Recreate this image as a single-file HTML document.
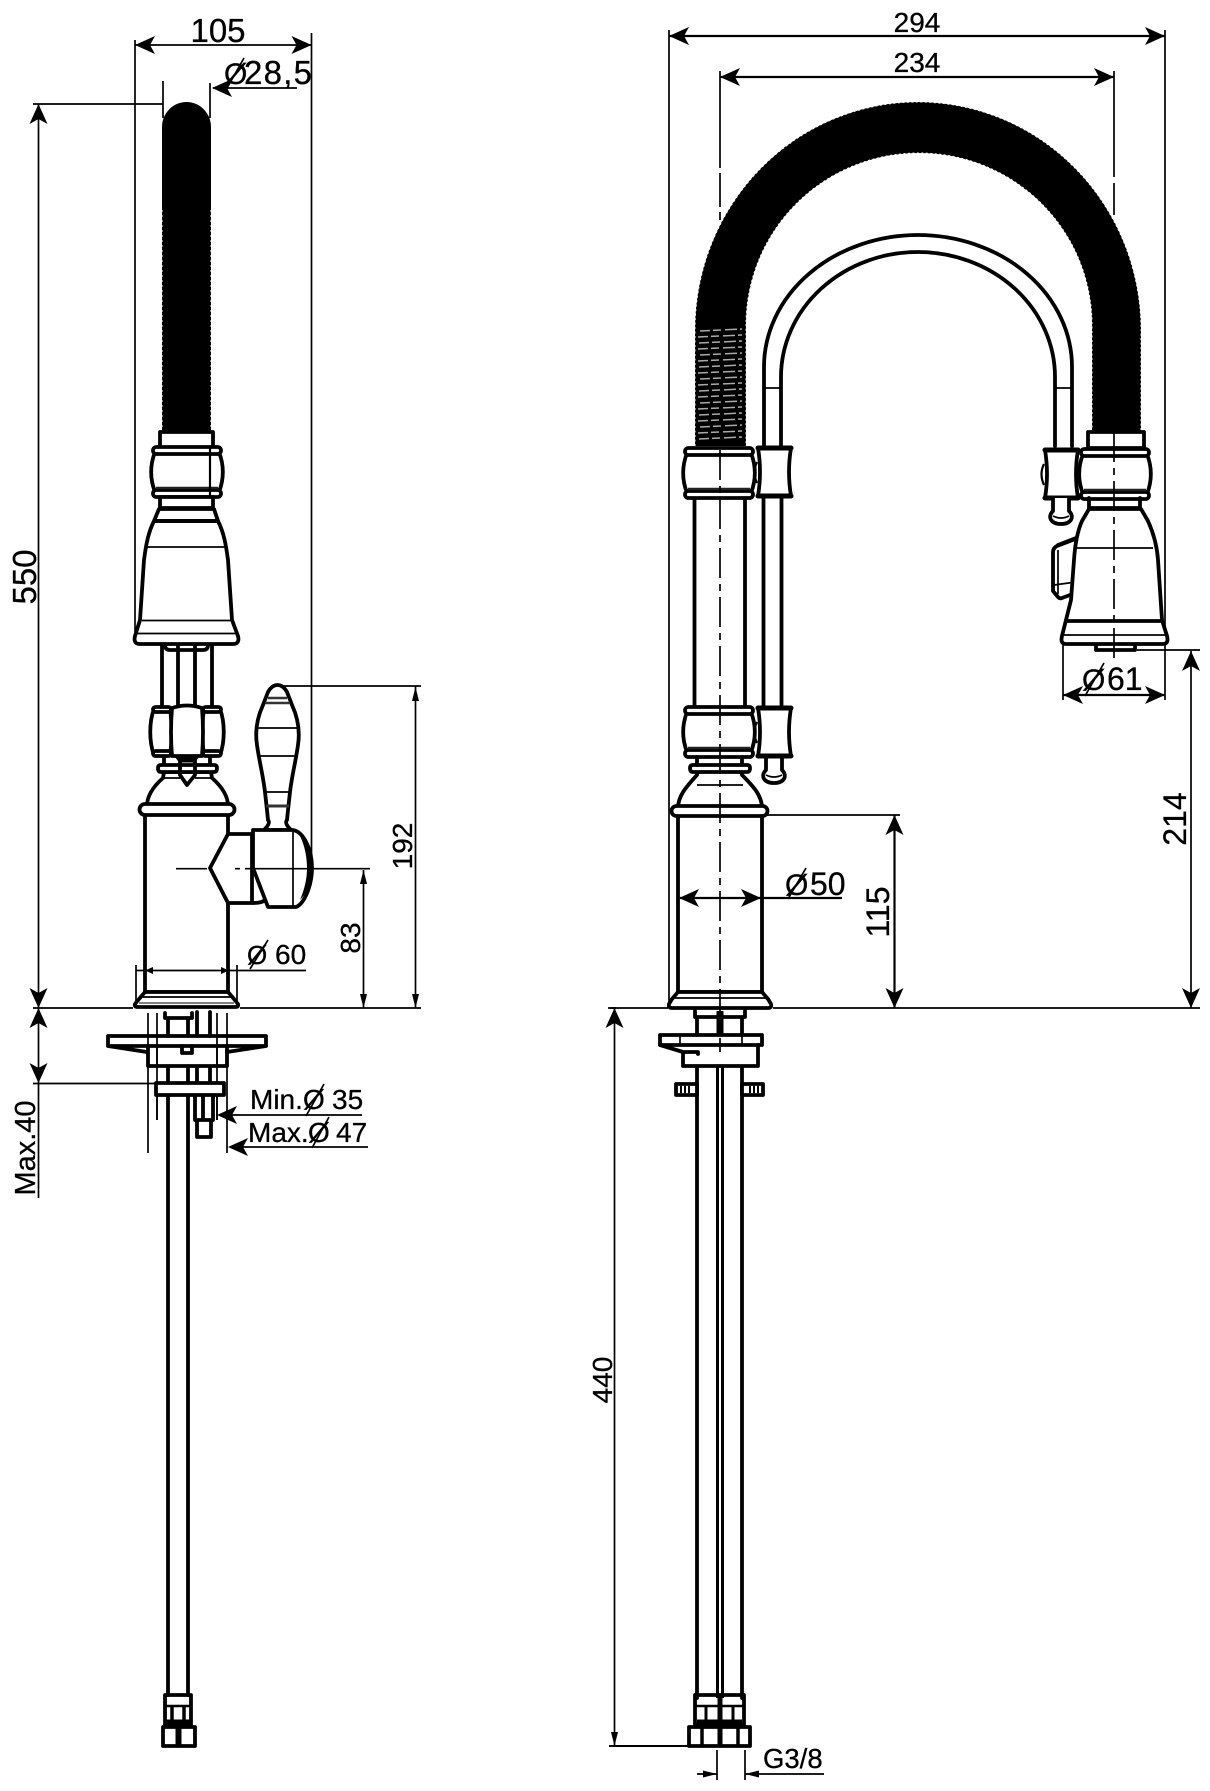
<!DOCTYPE html>
<html><head><meta charset="utf-8"><style>
html,body{margin:0;padding:0;background:#fff}
svg{display:block}
text{font-family:"Liberation Sans",sans-serif;fill:#000;stroke:#000;stroke-width:.3}
.k{fill:none;stroke:#000;stroke-width:3.8;stroke-linejoin:round;stroke-linecap:round}
.w{fill:#fff;stroke:#000;stroke-width:3.8;stroke-linejoin:round;stroke-linecap:round}
.t{fill:none;stroke:#000;stroke-width:1.7}
.m{fill:none;stroke:#000;stroke-width:2.2}
</style></head><body>
<svg width="1210" height="1791" viewBox="0 0 1210 1791" xmlns="http://www.w3.org/2000/svg">
<defs>
<path id="A" d="M0 0L20 -9L15 0L20 9Z"/>
<path id="S" d="M0 0L14 -3.500L14 3.500Z"/>
<path id="X" d="M0 0L8 -3.500L8 3.500Z"/>
<g id="collar">
<path class="w" d="M2 5C-3 18 -3 32 2 45L66 45C71 32 71 18 66 5Z"/>
<rect class="w" x="0" y="0" width="68" height="7" rx="3.500"/>
<rect class="w" x="0" y="43" width="68" height="7" rx="3.500"/>
<path d="M3 41H65" stroke="#222" stroke-width="2.500" fill="none"/>
</g>
<g id="clamp">
<path class="w" d="M1 3Q5 27 1 51L34 51Q30 27 34 3Z"/>
<path d="M1 3H34M1 51H34" stroke="#000" stroke-width="5" stroke-linecap="round" fill="none"/>
<path class="m" d="M0 17Q-5 27 0 38"/>
</g>
<g id="tip">
<path class="w" d="M-8 0V13C-14 19 -10 26 0 26C10 26 14 19 8 13V0"/>
<path class="t" d="M-8 18Q0 22 8 18"/>
</g>
</defs>

<!-- ================= LEFT VIEW ================= -->
<path class="t" d="M135 40V632M311.500 33V862"/>
<path class="t" d="M135 45H311"/>
<use href="#A" transform="translate(135,45)"/><use href="#A" transform="translate(311.500,45) rotate(180)"/>
<text x="218" y="42" font-size="33" text-anchor="middle">105</text>

<path class="t" d="M163 81V118M210 83V118M213 88H297"/>
<use href="#A" transform="translate(212,88)"/>
<text x="224" y="84" font-size="30">Ø</text><path class="t" d="M227 88L244 58"/>
<text x="244" y="84" font-size="33" textLength="68" lengthAdjust="spacing">28,5</text>

<!-- hose -->
<path d="M162 432V127A24.500 25 0 0 1 211 127V432Z" fill="#000"/>
<path d="M162 210V432M211 210V432" stroke="#fff" stroke-width="1" stroke-dasharray="2 3" fill="none"/>
<path class="t" d="M33 104H163"/>
<path class="t" d="M38.500 104V1198"/>
<use href="#A" transform="translate(38.500,104) rotate(90)"/>
<use href="#A" transform="translate(38.500,1008) rotate(-90)"/>
<use href="#A" transform="translate(38.500,1008) rotate(90)"/>
<use href="#A" transform="translate(38.500,1083) rotate(-90)"/>
<path class="t" d="M33 1008H133M33 1083.500H156"/>
<text transform="translate(36,577) rotate(-90)" font-size="33" text-anchor="middle">550</text>
<text transform="translate(35,1148) rotate(-90)" font-size="29" text-anchor="middle">Max.40</text>

<!-- head left -->
<rect class="w" x="160" y="432" width="53" height="16"/>
<use href="#collar" transform="translate(153,447)"/>
<path class="m" d="M210 447V497"/>
<rect class="w" x="160" y="497" width="53" height="11"/>
<path class="w" d="M159 509L154 521C148 533 146 545 144 560L140 620L135 636Q133 644 140 644H233Q240 644 238 636L232 620L228 560C226 545 224 533 218 521L214 509Z"/>
<path d="M154 521H219" stroke="#000" stroke-width="4"/>
<path class="t" d="M147 547H226"/>
<path d="M142 620.500H231" stroke="#000" stroke-width="1.700"/>
<path d="M137 633.500H236" stroke="#000" stroke-width="1.700"/>

<!-- under head -->
<path class="k" d="M165 645Q165 650 170 650H203Q208 650 208 645"/>
<path class="k" d="M162 645V708M178 645V708M195 645V708M212 645V708"/>

<!-- lower collar left -->
<path class="w" d="M154 709C149 722 149 742 154 755H170C172 742 172 722 170 709Z"/>
<path class="w" d="M220 709C225 722 225 742 220 755H204C202 742 202 722 204 709Z"/>
<rect class="w" x="153" y="707" width="18" height="5" rx="2.500"/>
<rect class="w" x="203" y="707" width="18" height="5" rx="2.500"/>
<rect class="w" x="153" y="751" width="18" height="5" rx="2.500"/>
<rect class="w" x="203" y="751" width="18" height="5" rx="2.500"/>
<path class="w" d="M172 708Q187 703 202 708Q204 732 202 756H172Q170 732 172 708Z"/>
<path d="M176 756H198L194 761H180Z" fill="#000" stroke="#000" stroke-width="3"/>
<path class="k" d="M164 758V765M210 758V765"/>

<!-- base left -->
<path class="w" d="M147 806C147 795 155 785 163 778L164 772H211L212 778C220 785 228 795 228 806Z"/>
<path class="w" d="M158 768Q158 765 161 765H214Q217 765 217 768Q217 772 214 772H161Q158 772 158 768Z"/>
<path class="k" d="M180 760V775L187 785L195 775V760"/>
<path class="t" d="M164 778H180M195 778H211"/>
<rect class="w" x="145" y="812" width="83" height="180"/>
<rect class="w" x="139.500" y="804" width="95" height="11" rx="5.500"/>
<path class="w" d="M145 992H228L234 999L238 1004Q239 1007 235 1007H138Q134 1007 135 1004L139 999Z"/>
<path class="t" d="M142 997H232"/>
<path d="M139 1003H234" stroke="#000" stroke-width="1"/>

<!-- handle -->
<path class="w" d="M228 834L210 868L228 903H252V834Z"/>
<path class="w" d="M264 830C269 825 270 822 268 820L267 810L265 792C263 775 259 760 257 745C255 732 257 718 263 705L268 692Q272 685 277.500 685Q283 685 287 692L292 705C298 718 300 732 298 745C296 760 292 775 290 792L288 810L287 820C285 822 286 825 291 830Z"/>
<path class="t" d="M256 728H299M260 756H295"/>
<path d="M265 703H290M268 698H287" stroke="#333" stroke-width="2.500"/>
<path d="M266 806H289" stroke="#333" stroke-width="3"/>
<path class="t" d="M265 792H290"/>
<path class="w" d="M253 830H293C304 832 312 850 312 868C312 886 304 904 296 907H268L253 868Z"/>
<path d="M300 836C308 846 312 858 312 868C312 880 308 892 300 900C305 888 307 878 307 868C307 858 305 846 300 836Z" fill="#000"/>
<path class="t" d="M293 830V907"/>
<path class="k" d="M253 903Q262 903 265 900"/>
<path class="t" d="M176 868.700H207M235 868.700H240M245 868.700H370"/>
<path class="t" d="M363.500 870V1008"/>
<use href="#S" transform="translate(363.500,870) rotate(90)"/>
<use href="#S" transform="translate(363.500,1008) rotate(-90)"/>
<text transform="translate(360,938) rotate(-90)" font-size="28" text-anchor="middle">83</text>
<path class="t" d="M278 686H421M415.500 686V1008"/>
<use href="#S" transform="translate(415.500,687) rotate(90)"/>
<use href="#S" transform="translate(415.500,1008) rotate(-90)"/>
<text transform="translate(412,846) rotate(-90)" font-size="28" text-anchor="middle">192</text>
<path class="t" d="M240 1008H421"/>

<!-- Ø60 -->
<path class="t" d="M136 965V1008M237 965V1008M136 970.500H306"/>
<use href="#X" transform="translate(145,970.500)"/><use href="#X" transform="translate(229,970.500) rotate(180)"/>
<text x="247" y="964" font-size="26">Ø</text><path class="t" d="M250 969L268 940"/>
<text x="275" y="964" font-size="28">60</text>

<!-- mount left -->
<path class="k" d="M165 1013V1018H192V1013M168 1018V1036M188 1018V1036M197 1012V1036M210 1012V1036"/>
<path class="t" d="M148 1013V1153M157 1013V1120M217 1013V1120M227 1013V1153"/>
<path class="k" d="M108 1036H266V1046H108ZM108 1046L147 1052M266 1046L227 1052"/>
<path class="k" d="M148 1046V1066H227V1046"/>
<path class="t" d="M157 1046V1066M217 1046V1066M168 1046H188"/>
<path class="k" d="M182 1046V1053H192V1046" stroke-width="2"/>
<path class="k" d="M168 1067V1083M188 1067V1083M197 1067V1083M210 1067V1083"/>
<rect class="w" x="156" y="1083" width="68" height="12"/>
<path class="t" d="M157 1095V1120M217 1095V1120"/>
<path class="k" d="M195 1096V1120H213V1096M197 1120V1137H211V1120M203 1096V1120"/>
<path class="k" d="M168 1096V1695M188 1096V1695"/>

<text x="250" y="1109" font-size="28">Min.</text>
<text x="303" y="1109" font-size="28">Ø</text><path class="t" d="M306 1116L324 1084"/>
<text x="332" y="1109" font-size="28">35</text>
<path class="t" d="M230 1115H362"/><use href="#A" transform="translate(217,1115)"/>
<text x="248" y="1142" font-size="28">Max.</text>
<text x="308" y="1142" font-size="28">Ø</text><path class="t" d="M312 1148L329 1117"/>
<text x="336" y="1142" font-size="28">47</text>
<path class="t" d="M240 1147H368"/><use href="#A" transform="translate(228,1147)"/>

<!-- fitting left -->
<path class="k" d="M165 1695H191V1725H165Z" stroke-width="4.500"/>
<path d="M165 1706H191" stroke="#000" stroke-width="2.500"/>
<path d="M172 1706V1722M184 1706V1722" stroke="#000" stroke-width="3.500"/>
<path d="M166 1722H191" stroke="#000" stroke-width="5"/>
<path class="k" d="M163 1727H195V1746H163Z" stroke-width="5"/>
<path d="M178.500 1725V1747" stroke="#000" stroke-width="6"/>

<!-- ================= RIGHT VIEW ================= -->
<path class="t" d="M669 30V1008M1165 30V642"/>
<path class="m" d="M669 36H1165"/>
<use href="#A" transform="translate(669,36)"/><use href="#A" transform="translate(1165,36) rotate(180)"/>
<text x="917" y="32" font-size="28" text-anchor="middle">294</text>
<path class="t" d="M720 71V220M1114 71V215"/>
<path class="m" d="M720 77H1114"/>
<use href="#A" transform="translate(720,77)"/><use href="#A" transform="translate(1114,77) rotate(180)"/>
<text x="917" y="72" font-size="28" text-anchor="middle">234</text>
<path d="M720 168V173M720 207V212M1114 177V183" stroke="#fff" stroke-width="3"/>

<!-- black arch -->
<path d="M695 446V330A223 228 0 0 1 1141 330V432H1092V325A173 172 0 0 0 746 325V446Z" fill="#000"/>
<path d="M695 446V330A223 228 0 0 1 1141 330V432M1092 432V325A173 172 0 0 0 746 325V446" stroke="#fff" stroke-width="1" stroke-dasharray="2 2.500" fill="none"/>
<path d="M700 331l42 -2M698 337l44 -2M699 343l43 -2M698 349l44 -2M700 355l42 -2M698 361l44 -2M699 367l43 -2M698 373l44 -2M700 379l42 -2M698 385l44 -2M699 391l43 -2M698 397l44 -2M700 403l42 -2M698 409l44 -2M699 415l43 -2M698 421l44 -2M700 427l42 -2M698 433l44 -2M699 439l43 -2" stroke="#aaa" stroke-width="1.500" stroke-dasharray="10 3 8 4 12 3" fill="none"/>

<!-- inner pipe arch -->
<path class="k" d="M764 446V367A154 132 0 0 1 1072 367V446"/>
<path class="k" d="M781 446V377A137 125 0 0 1 1055 377V446"/>
<path class="t" d="M764 388H781M1055 388H1072"/>
<path class="k" d="M763.500 498V706M781.500 498V706" />

<!-- right neck -->
<rect class="w" x="1088" y="432" width="56" height="16"/>

<!-- column -->
<path class="k" d="M694.500 497V707M745 497V707"/>
<use href="#collar" transform="translate(685,448)"/>
<use href="#collar" transform="translate(685,707)"/>
<use href="#clamp" transform="translate(757,445)"/>
<use href="#tip" transform="translate(774,757)"/>
<use href="#clamp" transform="translate(757,705)"/>

<!-- base right -->
<path class="w" d="M678 808C678 795 688 785 697 775L698 770H741L742 775C752 785 762 795 762 808Z"/>
<path class="w" d="M690 768Q690 765 693 765H747Q750 765 750 768Q750 772 747 772H693Q690 772 690 768Z"/>
<path class="k" d="M697 757V765M742 757V765"/>
<path class="t" d="M697 785H743"/>
<rect class="w" x="678" y="812" width="84" height="180"/>
<rect class="w" x="671.500" y="806" width="96" height="10" rx="5"/>
<path class="w" d="M678 992H762L768 999L771 1004Q772 1008 768 1008H672Q668 1008 669 1004L672 999Z"/>
<path class="t" d="M675 998H766"/>

<!-- right head -->
<use href="#collar" transform="translate(1081,449)"/>
<use href="#clamp" transform="translate(1044,447)"/>
<use href="#tip" transform="translate(1061,498)"/>
<path class="k" d="M1089 498V509M1140 498V509M1089 508H1140"/>
<path class="w" d="M1053 552Q1053 548 1057 546L1078 538V592L1062 598Q1060 599 1058 597L1053 591Z"/>
<path class="t" d="M1058 550V594M1054 585L1076 582"/>
<path class="w" d="M1089 509L1082 521C1077 532 1075 545 1074 560L1071 600L1066 620L1062 636Q1060 644 1066 644H1163Q1169 644 1167 636L1162 620L1158 560C1157 545 1153 532 1148 521L1141 509Z"/>
<path class="k" d="M1058 545L1076 538"/>
<path class="t" d="M1075 548H1153"/>
<path class="k" d="M1066 621H1162" stroke-width="2.500"/>
<path class="t" d="M1062 635H1166"/>
<path class="k" d="M1096 645V650H1135V645" stroke-width="2.500"/>

<!-- center lines right -->
<path class="t" d="M720 450V1052" stroke-dasharray="30 6 7 6"/>
<path class="t" d="M1114 432V660" stroke-dasharray="30 6 7 6"/>

<!-- Ø61 -->
<path class="t" d="M1063 644V700M1165 644V700"/>
<path class="m" d="M1063 695H1165"/>
<use href="#A" transform="translate(1063,695)"/><use href="#A" transform="translate(1165,695) rotate(180)"/>
<text x="1082" y="690" font-size="30">Ø</text><path class="t" d="M1085 696L1104 663"/>
<text x="1107" y="690" font-size="32">61</text>

<path class="t" d="M1137 650H1200"/>
<path class="t" d="M1191 651V1008"/>
<use href="#A" transform="translate(1191,651) rotate(90)"/>
<use href="#A" transform="translate(1191,1008) rotate(-90)"/>
<text transform="translate(1186,819) rotate(-90)" font-size="32" text-anchor="middle">214</text>

<!-- Ø50 -->
<path class="m" d="M680 898H842"/>
<use href="#A" transform="translate(679,898)"/><use href="#A" transform="translate(761,898) rotate(180)"/>
<text x="785" y="895" font-size="30">Ø</text><path class="t" d="M788 899L806 868"/>
<text x="810" y="895" font-size="32">50</text>

<!-- 115 -->
<path class="t" d="M763 815H900"/>
<path class="m" d="M894.500 815V1008"/>
<use href="#A" transform="translate(894.500,815) rotate(90)"/>
<use href="#A" transform="translate(894.500,1008) rotate(-90)"/>
<text transform="translate(889,912) rotate(-90)" font-size="32" text-anchor="middle">115</text>
<path class="t" d="M773 1008H1200M610 1008H668"/>

<!-- mount right -->
<path class="k" d="M695 1011V1017H745V1011M697 1017V1035M742 1017V1035"/>
<path d="M720 1011V1035" stroke="#000" stroke-width="7"/>
<path class="k" d="M660 1035H762V1045H660Z"/>
<path class="t" d="M680 1035V1045M742 1035V1045"/>
<path class="k" d="M660 1045L683 1052H698V1054M683 1052V1066H758V1045"/>
<path class="k" d="M697 1067V1698M742 1067V1698"/>
<path d="M717.500 1067V1698M722.500 1067V1698" stroke="#000" stroke-width="3"/>
<rect class="w" x="676" y="1084" width="21" height="11"/>
<rect class="w" x="742" y="1084" width="21" height="11"/>
<path d="M681 1086V1093M685 1086V1093M689 1086V1093M750 1086V1093M754 1086V1093M758 1086V1093" stroke="#000" stroke-width="2"/>

<!-- fitting right -->
<path class="k" d="M695 1695H744V1725H695Z" stroke-width="4.500"/>
<path d="M695 1706H744" stroke="#000" stroke-width="2.500"/>
<path d="M706 1706V1722M733 1706V1722" stroke="#000" stroke-width="3"/>
<path d="M697 1722H742" stroke="#000" stroke-width="5"/>
<path class="k" d="M689 1727H750V1746H689Z" stroke-width="5"/>
<path d="M720 1695V1747" stroke="#000" stroke-width="5"/>
<path d="M702 1728V1745M738 1728V1745" stroke="#000" stroke-width="3.500"/>

<path d="M609 1746H688" stroke="#000" stroke-width="2"/>
<path class="t" d="M614.500 1008V1746"/>
<path class="t" d="M608 1008H616"/>
<use href="#A" transform="translate(614.500,1008) rotate(90)" />
<use href="#S" transform="translate(614.500,1746) rotate(-90)"/>
<text transform="translate(612,1380) rotate(-90)" font-size="28" text-anchor="middle">440</text>

<path class="t" d="M717 1750V1780M745 1750V1780M697 1774H717M745 1774H824"/>
<use href="#S" transform="translate(717,1774) rotate(180)"/>
<use href="#S" transform="translate(745,1774)"/>
<text x="763" y="1768" font-size="27.500">G3/8</text>
</svg>
</body></html>
